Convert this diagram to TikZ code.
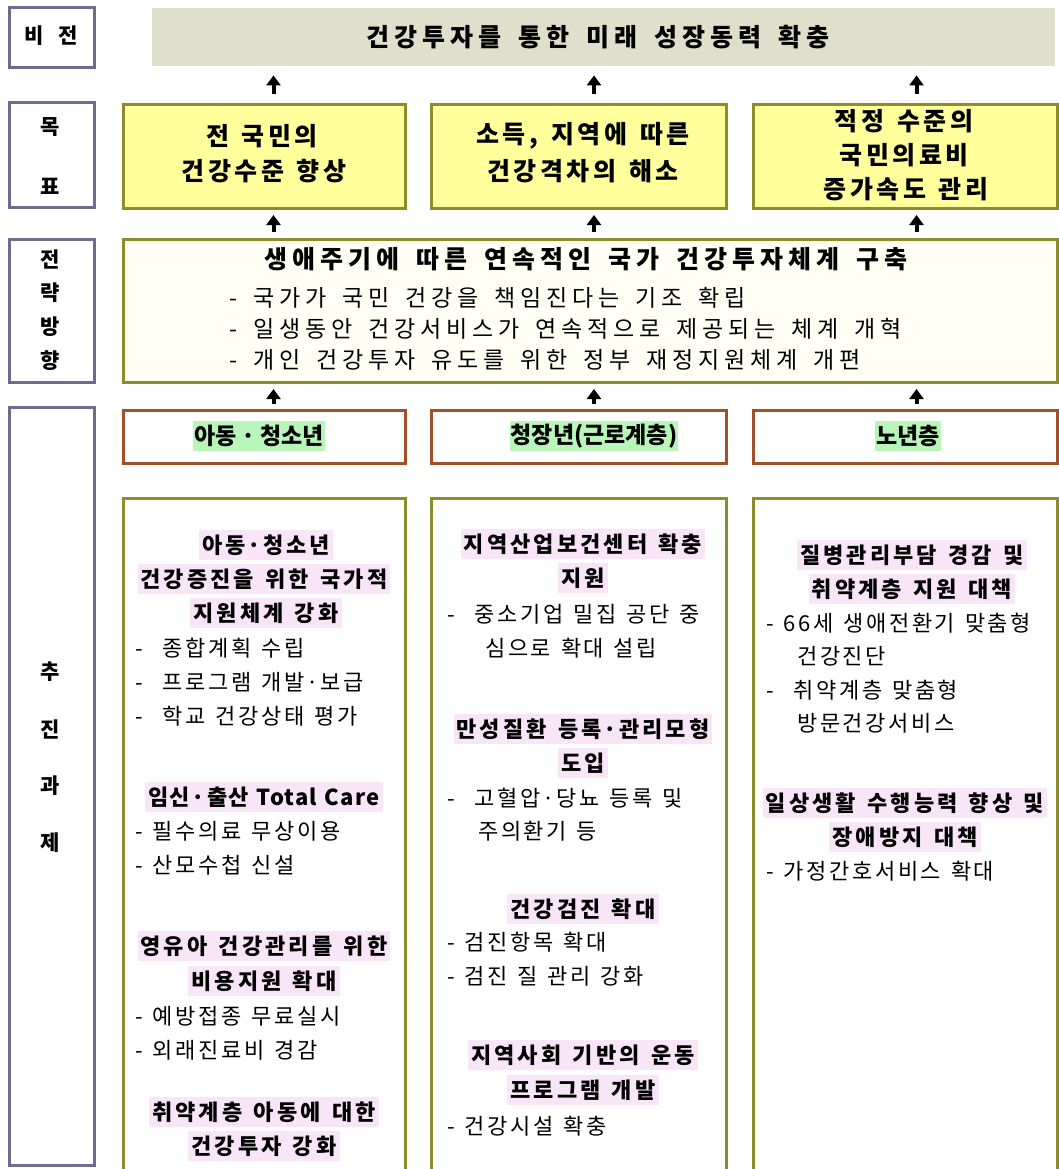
\documentclass[tikz,border=0pt]{standalone}
\usepackage{fontspec}
\setmainfont{Noto Sans CJK KR}
\newfontfamily\fTitle[LetterSpace=20,WordSpace=1.6]{Noto Sans CJK KR}
\newfontfamily\fGoal[LetterSpace=14,WordSpace=1.6]{Noto Sans CJK KR}
\newfontfamily\fStr[LetterSpace=21,WordSpace=1.6]{Noto Sans CJK KR}
\newfontfamily\fHead[LetterSpace=14,WordSpace=1.4]{Noto Sans CJK KR}
\newfontfamily\fHeadL[LetterSpace=6,WordSpace=1.2]{Noto Sans CJK KR}
\newfontfamily\fBody[LetterSpace=12,WordSpace=1.3]{Noto Sans CJK KR}
\newcommand\mdot{\kern2pt·\kern2pt}
\usetikzlibrary{arrows.meta,calc}
\definecolor{lblc}{HTML}{6E6C8E}
\definecolor{olive}{HTML}{8C8C2A}
\definecolor{visfill}{HTML}{DFDFCB}
\definecolor{goalfill}{HTML}{FFFF9C}
\definecolor{stratfill}{HTML}{FFFFF6}
\definecolor{hdrc}{HTML}{A3502A}
\definecolor{hlgreen}{HTML}{B8F5B8}
\definecolor{hlpink}{HTML}{F8E6F8}
\begin{document}
\begin{tikzpicture}[x=1pt,y=-1pt,
  lbl/.style={draw=lblc, line width=3pt, fill=white, anchor=north west},
  goalbox/.style={draw=olive, line width=3pt, fill=goalfill, anchor=north west},
  stratbox/.style={draw=olive, line width=3pt, fill=stratfill, anchor=north west},
  hdrbox/.style={draw=hdrc, line width=3pt, fill=white, anchor=north west},
  bodybox/.style={draw=olive, line width=3pt, fill=white, anchor=north west},
  visbox/.style={fill=visfill, anchor=north west},
  lbltxt/.style={font=\fontsize{21}{24}\selectfont\bfseries, inner sep=0pt},
  vistxt/.style={font=\fTitle\fontsize{25}{28}\selectfont\bfseries, inner sep=0pt},
  goaltxt/.style={font=\fGoal\fontsize{25}{28}\selectfont\bfseries, inner sep=0pt},
  strtxt/.style={font=\fTitle\fontsize{25}{28}\selectfont\bfseries, inner sep=0pt},
  strbl/.style={font=\fStr\fontsize{23}{26}\selectfont, anchor=west, inner sep=0pt},
  hd/.style={font=\fHead\fontsize{22}{26}\selectfont\bfseries, fill=hlpink, inner xsep=3pt, inner ysep=0pt, minimum height=30pt},
  hg/.style={font=\fontsize{23}{26}\selectfont\bfseries, fill=hlgreen, inner xsep=1pt, inner ysep=0pt, minimum height=30pt},
  bl/.style={font=\fBody\fontsize{22}{26}\selectfont, anchor=west, inner sep=0pt},
  arr/.style={line width=4pt, -{Triangle[width=14pt,length=10pt]}}
]
\useasboundingbox (0,0) rectangle (1059,1169);
\fill[white] (0,0) rectangle (1059,1169);

% ---- left labels
\node[lbl, minimum width=85, minimum height=60] (Lv) at (8,6) {};
\node[lbl, minimum width=85, minimum height=105] (Lg) at (8,101) {};
\node[lbl, minimum width=85, minimum height=143] (Ls) at (8,238) {};
\node[lbl, minimum width=85, minimum height=758] (Lt) at (8,406) {};
\node[lbltxt] (tv) at (51,36) {비\ \ \ 전};
\node[lbltxt] (tg1) at (50,127) {목};
\node[lbltxt] (tg2) at (50,186) {표};
\node[lbltxt] (ts1) at (50,259) {전};
\node[lbltxt] (ts2) at (50,293) {략};
\node[lbltxt] (ts3) at (50,327) {방};
\node[lbltxt] (ts4) at (50,361) {향};
\node[lbltxt] (tt1) at (50,672) {추};
\node[lbltxt] (tt2) at (50,729) {진};
\node[lbltxt] (tt3) at (50,786) {과};
\node[lbltxt] (tt4) at (50,843) {제};

% ---- vision
\node[visbox, minimum width=903, minimum height=58] (vis) at (152,8) {};
\node[vistxt] (vist) at (598,37) {건강투자를 통한 미래 성장동력 확충};

% ---- goals
\node[goalbox, minimum width=282, minimum height=104] (g1) at (122,103) {};
\node[goalbox, minimum width=295, minimum height=104] (g2) at (430,103) {};
\node[goalbox, minimum width=304, minimum height=104] (g3) at (752,103) {};
\node[goaltxt] (g1a) at (262,136) {전 국민의};
\node[goaltxt] (g1b) at (264,171) {건강수준 향상};
\node[goaltxt] (g2a) at (583,136) {소득, 지역에 따른};
\node[goaltxt] (g2b) at (583,171) {건강격차의 해소};
\node[goaltxt] (g3a) at (904,121) {적정 수준의};
\node[goaltxt] (g3b) at (904,155) {국민의료비};
\node[goaltxt] (g3c) at (906,189) {증가속도 관리};

% ---- strategy
\node[stratbox, minimum width=934, minimum height=143] (st) at (122,238) {};
\node[strtxt] (sta) at (586,259) {생애주기에 따른 연속적인 국가 건강투자체계 구축};
\node[strbl] (stb) at (229,298) {-\ 국가가 국민 건강을 책임진다는 기조 확립};
\node[strbl] (stc) at (229,329) {-\ 일생동안 건강서비스가 연속적으로 제공되는 체계 개혁};
\node[strbl] (std) at (229,360) {-\ 개인 건강투자 유도를 위한 정부 재정지원체계 개편};

% ---- column headers
\node[hdrbox, minimum width=282, minimum height=53] (h1) at (122,409) {};
\node[hdrbox, minimum width=295, minimum height=53] (h2) at (430,409) {};
\node[hdrbox, minimum width=304, minimum height=53] (h3) at (752,409) {};
\node[hg] (h1t) at (259,436) {아동\kern5pt·\kern5pt청소년};
\node[hg] (h2t) at (594,436) {청장년(근로계층)};
\node[hg] (h3t) at (908,436) {노년층};

% ---- column bodies
\node[bodybox, minimum width=282, minimum height=680] (b1) at (122,497) {};
\node[bodybox, minimum width=295, minimum height=680] (b2) at (430,497) {};
\node[bodybox, minimum width=304, minimum height=680] (b3) at (752,497) {};

% ---- arrows
\foreach \c/\d in {g1/9,g2/15,g3/11}{
  \draw[arr, shorten <=9pt, shorten >=9pt] ([xshift=\d pt]\c.north) -- ([xshift=\d pt]\c.north |- vis.south);
  \draw[arr, shorten <=6pt, shorten >=5pt] ([xshift=\d pt]\c.south |- st.north) -- ([xshift=\d pt]\c.south);
}
\foreach \c/\d in {h1/9,h2/15,h3/11}{
  \draw[arr, shorten <=5pt, shorten >=5pt] ([xshift=\d pt]\c.north) -- ([xshift=\d pt]\c.north |- st.south);
}

% ---- column 1
\node[hd] (c1h1) at (266,545) {아동\mdot 청소년};
\node[hd] (c1h2) at (264,579) {건강증진을 위한 국가적};
\node[hd] (c1h3) at (266,613) {지원체계 강화};
\node[bl] (c1b1) at (135,648) {-\ \ 종합계획 수립};
\node[bl] (c1b2) at (135,682) {-\ \ 프로그램 개발\mdot 보급};
\node[bl] (c1b3) at (135,716) {-\ \ 학교 건강상태 평가};
\node[hd, font=\fHeadL\fontsize{22}{26}\selectfont\bfseries] (c1h4) at (264,797) {임신\mdot 출산 Total Care};
\node[bl] (c1b4) at (135,831) {-\ 필수의료 무상이용};
\node[bl] (c1b5) at (135,865) {-\ 산모수첩 신설};
\node[hd] (c1h5) at (264,946) {영유아 건강관리를 위한};
\node[hd] (c1h6) at (264,981) {비용지원 확대};
\node[bl] (c1b6) at (135,1016) {-\ 예방접종 무료실시};
\node[bl] (c1b7) at (135,1050) {-\ 외래진료비 경감};
\node[hd] (c1h7) at (264,1112) {취약계층 아동에 대한};
\node[hd] (c1h8) at (264,1146) {건강투자 강화};

% ---- column 2
\node[hd] (c2h1) at (583,544) {지역산업보건센터 확충};
\node[hd] (c2h2) at (583,578) {지원};
\node[bl] (c2b1) at (447,614) {-\ \ 중소기업 밀집 공단 중};
\node[bl] (c2b2) at (485,648) {심으로 확대 설립};
\node[hd] (c2h3) at (583,729) {만성질환 등록\mdot 관리모형};
\node[hd] (c2h4) at (583,763) {도입};
\node[bl] (c2b3) at (447,798) {-\ \ 고혈압\mdot 당뇨 등록 및};
\node[bl] (c2b4) at (478,831) {주의환기 등};
\node[hd] (c2h5) at (583,909) {건강검진 확대};
\node[bl] (c2b5) at (447,942) {-\ 검진항목 확대};
\node[bl] (c2b6) at (447,976) {-\ 검진 질 관리 강화};
\node[hd] (c2h6) at (583,1055) {지역사회 기반의 운동};
\node[hd] (c2h7) at (583,1090) {프로그램 개발};
\node[bl] (c2b7) at (447,1126) {-\ 건강시설 확충};

% ---- column 3
\node[hd] (c3h1) at (912,555) {질병관리부담 경감 및};
\node[hd] (c3h2) at (912,589) {취약계층 지원 대책};
\node[bl] (c3b1) at (766,623) {-\ 66세 생애전환기 맞춤형};
\node[bl] (c3b2) at (797,656) {건강진단};
\node[bl] (c3b3) at (766,690) {-\ \ 취약계층 맞춤형};
\node[bl] (c3b4) at (797,723) {방문건강서비스};
\node[hd] (c3h3) at (905,803) {일상생활 수행능력 향상 및};
\node[hd] (c3h4) at (905,837) {장애방지 대책};
\node[bl] (c3b5) at (766,871) {-\ 가정간호서비스 확대};
\end{tikzpicture}
\end{document}
